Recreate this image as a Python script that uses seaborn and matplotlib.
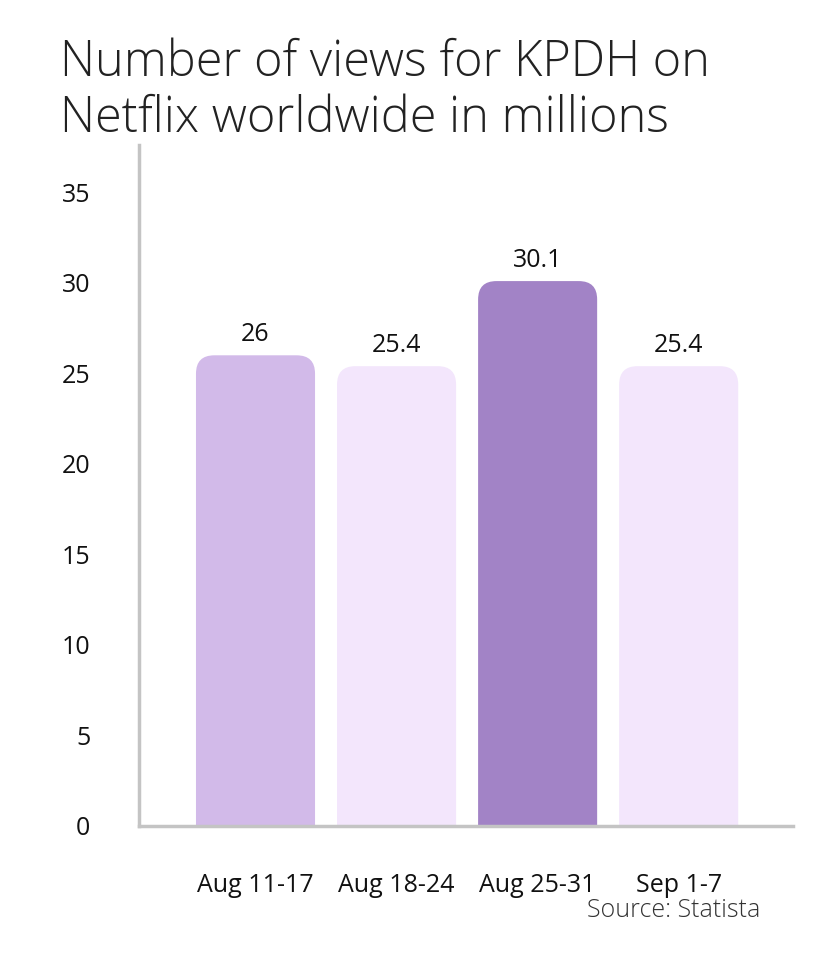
import matplotlib
matplotlib.use('Agg')
import matplotlib.pyplot as plt
import numpy as np
import pandas as pd
import seaborn as sns
from matplotlib.patches import FancyBboxPatch

weeks = ['Aug 11-17', 'Aug 18-24', 'Aug 25-31', 'Sep 1-7']
views = [26, 25.4, 30.1, 25.4]
bar_colors = ['#D2BAE9', '#F3E6FC', '#A283C6', '#F3E6FC']
y_ticks = [0, 5, 10, 15, 20, 25, 30, 35]

sns.set_theme(style='white')
plt.rcParams['font.family'] = ['Open Sans', 'DejaVu Sans']

df = pd.DataFrame({'week': weeks, 'views': views})

fig = plt.figure(figsize=(8.2, 9.56), dpi=100)
ax = fig.add_axes([0.1695, 0.136, 0.7975, 0.712])

sns.barplot(data=df, x='week', y='views', hue='week', palette=bar_colors,
            legend=False, width=0.844, ax=ax, saturation=1)

ax.set_xlim(-0.826, 3.81)
ax.set_ylim(0, 37.6)

# swap plain bars for ones with rounded tops
px_x = 141.0
px_y = 18.11
for patch in list(ax.patches):
    x0, w, h = patch.get_x(), patch.get_width(), patch.get_height()
    color = patch.get_facecolor()
    patch.remove()
    box = FancyBboxPatch((x0, -3), w, h + 3,
                         boxstyle='round,pad=0,rounding_size=0.13',
                         mutation_aspect=px_x / px_y,
                         facecolor=color, edgecolor='none', clip_on=True)
    ax.add_patch(box)

for i, v in enumerate(views):
    ax.annotate(f'{v:g}', (i, v), xytext=(0, 6), textcoords='offset points',
                ha='center', va='bottom', fontsize=18, color='#111111')

ax.set_yticks(y_ticks)
ax.set_xlabel('')
ax.set_ylabel('')
ax.tick_params(axis='y', length=0, pad=35, labelsize=18, labelcolor='#111111')
ax.tick_params(axis='x', length=0, pad=34, labelsize=18, labelcolor='#111111')

for s in ['top', 'right']:
    ax.spines[s].set_visible(False)
for s in ['left', 'bottom']:
    ax.spines[s].set_color('#C4C4C4')
    ax.spines[s].set_linewidth(2.5)

fig.text(0.073, 0.96, 'Number of views for KPDH on\nNetflix worldwide in millions',
         ha='left', va='top', fontsize=35, fontweight='light', color='#222222',
         linespacing=1.15)
fig.text(0.927, 0.034, 'Source: Statista', ha='right', va='bottom',
         fontsize=18, fontweight='light', color='#333333')

fig.savefig('out.png', dpi=100)
